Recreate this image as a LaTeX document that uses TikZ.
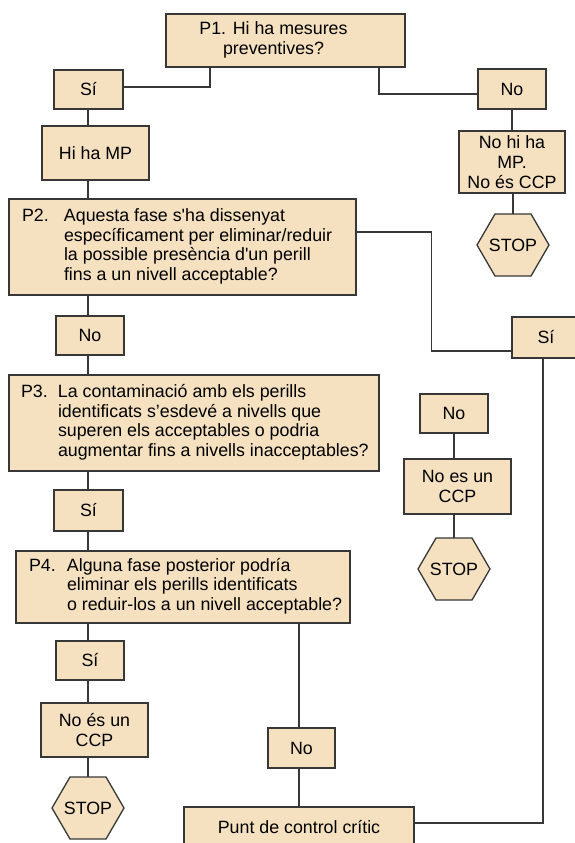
\documentclass[tikz,border=0pt]{standalone}
\usepackage{fontspec}
\setmainfont{Liberation Sans}
\definecolor{boxfill}{RGB}{245,225,192}
\definecolor{edge}{RGB}{55,55,55}
\newcommand{\pregunta}[3]{\makebox[#1][l]{\begin{tabular}{@{}p{#2}@{}l@{}}#3\end{tabular}}}
\tikzset{
  box/.style={draw=edge,fill=boxfill,line width=1.3pt,inner sep=0pt,
    font=\fontsize{17.8pt}{19.7pt}\selectfont},
  wh/.style 2 args={minimum width=#1pt,minimum height=#2pt},
  answer/.style={box,align=center},
  stoptext/.style={inner sep=0pt,minimum width=72pt,minimum height=62pt,
    font=\fontsize{17.8pt}{19.7pt}\selectfont},
  hexa/.style={draw=edge,fill=boxfill,line width=1.3pt,line join=miter},
  link/.style={draw=edge,line width=1.3pt}
}
\begin{document}
\begin{tikzpicture}[x=1pt,y=-1pt]
  \useasboundingbox (0,0) rectangle (574,843);
  \coordinate (spine) at (88,0);
  \node[box,wh={239}{53}] (p1) at (285.5,40.5)
    {\begin{tabular}{@{}c@{}}P1. Hi ha mesures\\preventives?\end{tabular}\hspace*{24pt}};
  \node[answer,wh={69}{39}] (siA) at (88.5,89.5) {Sí};
  \node[answer,wh={68}{40}] (noA) at (512,89) {No};
  \node[answer,wh={107}{54}] (himp) at (95.5,153) {Hi ha MP};
  \node[answer,wh={106}{62}] (nomp) at (512,162) {No hi ha\\MP.\\No és CCP};
  \foreach \n/\x/\y in {stopA/513/245, stopC/454/569, stopB/88/808} {
    \draw[hexa] (\x,\y) +(-36,0) -- +(-18,-31) -- +(18,-31) -- +(36,0)
      -- +(18,31) -- +(-18,31) -- cycle;
    \node[stoptext] (\n) at (\x,\y) {STOP};
  }
  \node[box,wh={347}{96}] (p2) at (182.5,247)
    {\pregunta{321pt}{42pt}{P2. & Aquesta fase s\textquotesingle ha dissenyat\\
      & específicament per eliminar/reduir\\
      & la possible presència d\textquotesingle un perill\\
      & fins a un nivell acceptable?}};
  \node[answer,wh={68}{41}] (siB) at (546,337.5) {Sí};
  \node[answer,wh={68}{39}] (noB) at (90,335.5) {No};
  \node[box,wh={370}{96}] (p3) at (194,423)
    {\pregunta{346pt}{37pt}{P3. & La contaminació amb els perills\\
      & identificats s’esdevé a nivells que\\
      & superen els acceptables o podria\\
      & augmentar fins a nivells inacceptables?}};
  \node[answer,wh={68}{39}] (noD) at (454,413.5) {No};
  \node[answer,wh={107}{55}] (nocB) at (457.5,486.5) {No es un\\CCP};
  \node[answer,wh={69}{41}] (siC) at (88.5,510.5) {Sí};
  \node[box,wh={334}{72}] (p4) at (183,587)
    {\pregunta{308pt}{38pt}{P4. & Alguna fase posterior podría\\
      & eliminar els perills identificats\\
      & o reduir-los a un nivell acceptable?}};
  \node[answer,wh={68}{39}] (siD) at (90,660.5) {Sí};
  \node[answer,wh={107}{54}] (nocA) at (94.5,730) {No és un\\CCP};
  \node[answer,wh={67}{40}] (noC) at (301.5,748) {No};
  \node[answer,wh={230}{40}] (punt) at (299,827) {Punt de control crític};
  \draw[link] ([xshift=-75.5pt]p1.south) |- ([yshift=2.5pt]siA.east);
  \draw[link] ([xshift=93.5pt]p1.south) |- ([yshift=-5pt]noA.west);
  \draw[link] (siA.south -| spine) -- (himp.north -| spine);
  \draw[link] (himp.south -| spine) -- (p2.north -| spine);
  \draw[link] (p2.south -| spine) -- (noB.north -| spine);
  \draw[link] (noB.south -| spine) -- (p3.north -| spine);
  \draw[link] (p3.south -| spine) -- (siC.north -| spine);
  \draw[link] (siC.south -| spine) -- (p4.north -| spine);
  \draw[link] (p4.south -| spine) -- (siD.north -| spine);
  \draw[link] (siD.south -| spine) -- (nocA.north -| spine);
  \draw[link] (nocA.south -| spine) -- (stopB.north -| spine);
  \draw[link] (noA.south) -- (nomp.north -| noA);
  \draw[link] (nomp.south -| stopA) -- (stopA.north);
  \draw[link] (noD.south) -- (nocB.north -| noD);
  \draw[link] (nocB.south -| noD) -- (stopC.north);
  \draw[link] ([yshift=15pt]p2.east) -| ([xshift=-80pt,yshift=-13.5pt]siB.west)
    -- ([yshift=-13.5pt]siB.west);
  \draw[link] ([xshift=-3pt]siB.south) |- ([yshift=4pt]punt.east);
  \draw[link] (p4.south -| punt) -- (noC.north -| punt);
  \draw[link] (noC.south -| punt) -- (punt.north);
\end{tikzpicture}
\end{document}
